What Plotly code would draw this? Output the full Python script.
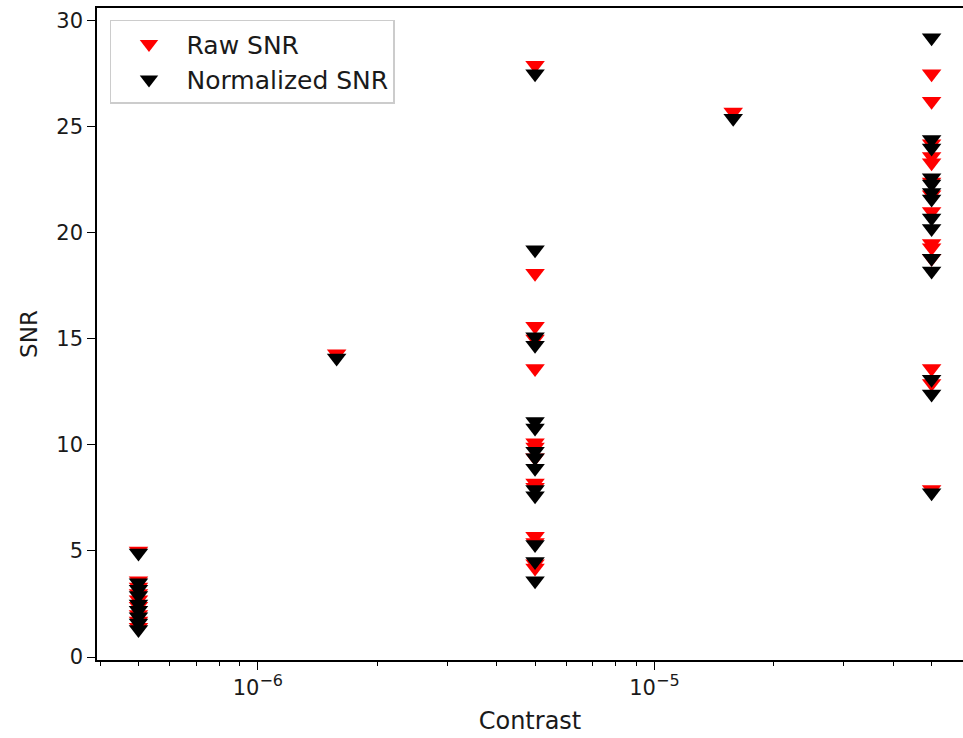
import numpy as np
import plotly.graph_objects as go

# Contrast levels
contrast_levels = [5e-7, 1.58e-6, 5e-6, 1.58e-5, 5e-5]

# Raw SNR values per contrast level
raw_5e7 = [5.0, 3.6, 3.3, 3.0, 2.7, 2.4, 2.0, 1.7, 1.4]
raw_16e7 = [14.3]
raw_5e6 = [27.9, 18.1, 15.6, 15.0, 13.6, 10.1, 9.9, 9.4, 8.2, 8.0, 5.7, 5.4, 4.4, 4.2]
raw_16e6 = [25.7]
raw_5e5 = [27.5, 26.2, 24.2, 23.6, 23.3, 22.4, 21.8, 21.0, 19.5, 19.3, 18.8, 13.6, 12.9, 7.9]

# Normalized SNR values per contrast level
norm_5e7 = [4.9, 3.5, 3.2, 2.9, 2.5, 2.2, 1.9, 1.6, 1.3]
norm_16e7 = [14.1]
norm_5e6 = [27.5, 19.2, 15.1, 14.7, 11.1, 10.8, 9.7, 9.4, 8.9, 7.9, 7.6, 5.3, 4.5, 3.6]
norm_16e6 = [25.4]
norm_5e5 = [29.2, 24.4, 24.0, 22.6, 22.3, 21.9, 21.6, 20.7, 20.2, 18.8, 18.2, 13.1, 12.4, 7.75]

raw_groups = [raw_5e7, raw_16e7, raw_5e6, raw_16e6, raw_5e5]
norm_groups = [norm_5e7, norm_16e7, norm_5e6, norm_16e6, norm_5e5]

raw_x, raw_y, norm_x, norm_y = [], [], [], []
for c, vals in zip(contrast_levels, raw_groups):
    raw_x += [c] * len(vals)
    raw_y += vals
for c, vals in zip(contrast_levels, norm_groups):
    norm_x += [c] * len(vals)
    norm_y += vals

major_ticks = [1e-6, 1e-5]
major_labels = ["10<sup><span style='font-size:16px'>\u22126</span></sup>",
                "10<sup><span style='font-size:16px'>\u22125</span></sup>"]
minor_ticks = [4e-7, 5e-7, 6e-7, 7e-7, 8e-7, 9e-7,
               2e-6, 3e-6, 4e-6, 5e-6, 6e-6, 7e-6, 8e-6, 9e-6,
               2e-5, 3e-5, 4e-5, 5e-5, 6e-5]
y_ticks = [0, 5, 10, 15, 20, 25, 30]

font = dict(family="DejaVu Sans", size=21, color="#1a1a1a")

fig = go.Figure()
fig.add_trace(go.Scatter(x=raw_x, y=raw_y, mode="markers", name="Raw SNR",
                         legendgroup="raw",
                         marker=dict(symbol="triangle-down", size=17, color="red",
                                     line=dict(width=0))))
fig.add_trace(go.Scatter(x=norm_x, y=norm_y, mode="markers", name="Normalized SNR",
                         legendgroup="norm",
                         marker=dict(symbol="triangle-down", size=17, color="black",
                                     line=dict(width=0))))

fig.update_layout(
    width=963, height=738,
    margin=dict(l=97, r=0, t=8, b=78),
    paper_bgcolor="white", plot_bgcolor="white",
    font=font,
    showlegend=True,
    legend=dict(x=0.015, y=0.982, xanchor="left", yanchor="top",
                bgcolor="rgba(255,255,255,0.8)", bordercolor="#cccccc", borderwidth=1.5,
                font=dict(family="DejaVu Sans", size=25, color="#1a1a1a"),
                itemwidth=65, tracegroupgap=1, traceorder="normal"),
    xaxis=dict(type="log", range=[np.log10(3.93e-7), np.log10(6.0e-5)],
               tickvals=major_ticks, ticktext=major_labels,
               ticks="outside", ticklen=8, tickwidth=1.2, tickcolor="black",
               showline=True, linecolor="black", linewidth=1.5, mirror=True,
               showgrid=False, zeroline=False,
               minor=dict(tickvals=minor_ticks, ticks="outside", ticklen=4,
                          tickwidth=1, tickcolor="black", showgrid=False),
               title=dict(text="Contrast", standoff=13, font=dict(size=24))),
    yaxis=dict(range=[-0.14, 30.6], tickvals=y_ticks,
               ticks="outside", ticklen=8, tickwidth=1.2, tickcolor="black",
               showline=True, linecolor="black", linewidth=1.5, mirror=False,
               showgrid=False, zeroline=False,
               title=dict(text="SNR", standoff=12, font=dict(size=23))),
)

fig.write_html("out.html")
